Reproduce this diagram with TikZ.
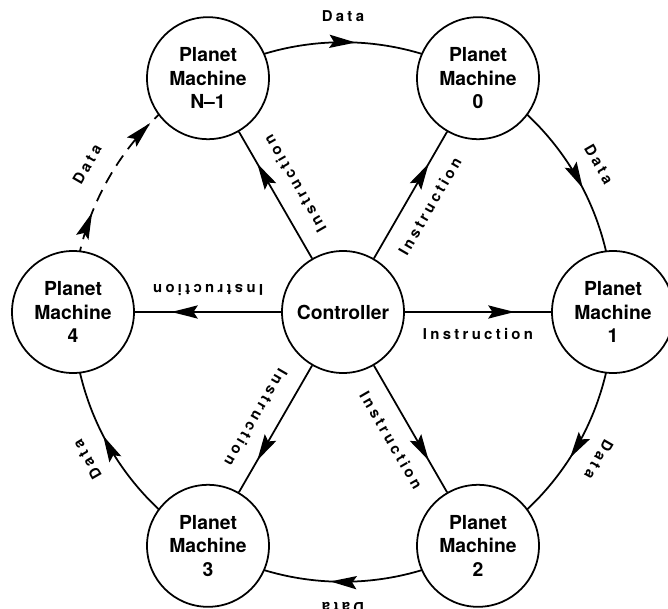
\documentclass[tikz,border=0pt]{standalone}
\usepackage{fontspec}
\setmainfont{TeX Gyre Heros}
\newfontfamily\spacedfont[LetterSpace=22]{TeX Gyre Heros}
\usetikzlibrary{arrows.meta, decorations.markings}
\pgfdeclarelayer{background}
\pgfsetlayers{background,main}
\tikzstyle{planet}     = [circle, draw=black, fill=white, line width=1pt, minimum size=2.44cm, inner sep=1pt, align=center, font=\fontsize{11}{13.5}\selectfont\bfseries]
\tikzstyle{datalabel}  = [anchor=south, inner xsep=0pt, inner ysep=11pt, font=\spacedfont\fontsize{8.5}{9}\selectfont\bfseries]
\tikzstyle{instrlabel} = [anchor=north, inner xsep=0pt, inner ysep=9pt, font=\spacedfont\fontsize{8.5}{9}\selectfont\bfseries]
\tikzstyle{dataflow}   = [line width=1pt, looseness=0.91, postaction={decorate}, decoration={markings, mark=at position 0.545 with {\arrow{Stealth[length=15pt,width=7.5pt,inset=2.5pt]}}}]
\tikzstyle{dataguess}  = [line width=1pt, looseness=0.91, dash pattern=on 7pt off 4.5pt, dash phase=4pt, postaction={decorate}, decoration={markings, mark=at position 0.36 with {\arrow{Stealth[length=15pt,width=7.5pt,inset=2.5pt]}}, mark=at position 0.74 with {\arrow{Stealth[length=15pt,width=7.5pt,inset=2.5pt]}}}]
\tikzstyle{instr}      = [line width=1pt, postaction={decorate}, decoration={markings, mark=at position 0.75 with {\arrow{Stealth[length=15pt,width=7.5pt,inset=2.5pt]}}}]

\begin{document}
\begin{tikzpicture}
\useasboundingbox (-6.86,-5.94) rectangle (6.5,6.24);
\begin{pgfonlayer}{main}
\node (ctrl) [planet] at (0,0) {Controller};
\node (pmN) [planet] at (120:5.4) {Planet\\Machine\\N--1};
\node (pm0) [planet] at (60:5.4) {Planet\\Machine\\0};
\node (pm1) [planet] at (0:5.4) {Planet\\Machine\\1};
\node (pm2) [planet] at (-60:5.4) {Planet\\Machine\\2};
\node (pm3) [planet] at (-120:5.4) {Planet\\Machine\\3};
\node (pm4) [planet] at (180:5.4) {Planet\\Machine\\4};

% instructions from the controller
\draw [instr] (ctrl) -- node [midway, instrlabel, rotate=60] {Instruction} (pm0);
\draw [instr] (ctrl) -- node [midway, instrlabel, rotate=0] {Instruction} (pm1);
\draw [instr] (ctrl) -- node [midway, instrlabel, rotate=-60] {Instruction} (pm2);
\draw [instr] (ctrl) -- node [midway, instrlabel, rotate=-120] {Instruction} (pm3);
\draw [instr] (ctrl) -- node [midway, instrlabel, rotate=180] {Instruction} (pm4);
\draw [instr] (ctrl) -- node [midway, instrlabel, rotate=120] {Instruction} (pmN);
\end{pgfonlayer}

% data ring, drawn centre to centre behind the machines
\begin{pgfonlayer}{background}
\draw [dataflow] (pmN.center) to[bend left=30] node [midway, datalabel, rotate=0] {Data} (pm0.center);
\draw [dataflow] (pm0.center) to[bend left=30] node [midway, datalabel, rotate=-60] {Data} (pm1.center);
\draw [dataflow] (pm1.center) to[bend left=30] node [midway, datalabel, rotate=-120] {Data} (pm2.center);
\draw [dataflow] (pm2.center) to[bend left=30] node [midway, datalabel, rotate=-180] {Data} (pm3.center);
\draw [dataflow] (pm3.center) to[bend left=30] node [midway, datalabel, rotate=120] {Data} (pm4.center);
\draw [dataguess] (pm4.center) to[bend left=30] node [midway, datalabel, rotate=60] {Data} (pmN.center);
\end{pgfonlayer}
\end{tikzpicture}
\end{document}
